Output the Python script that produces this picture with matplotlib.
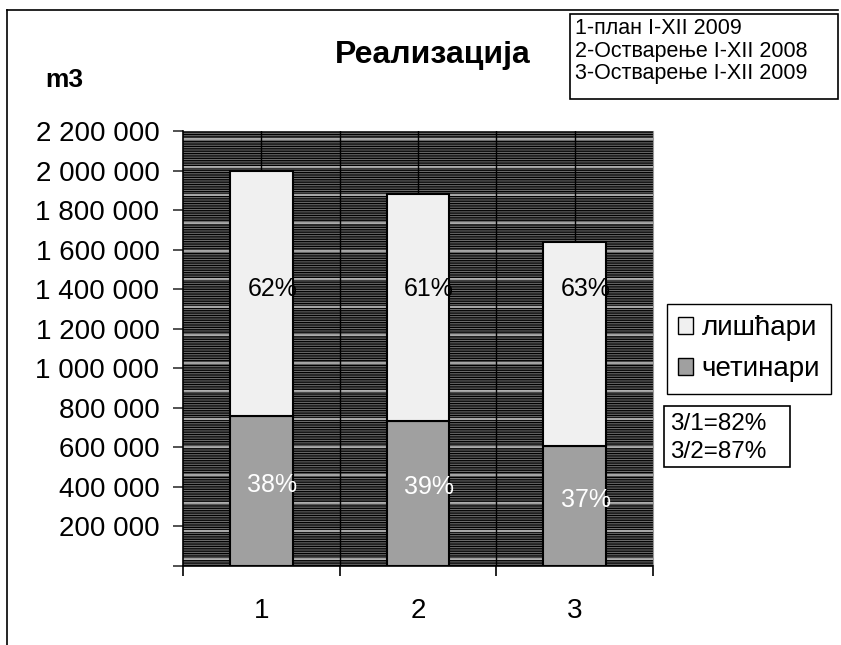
import numpy as np
import matplotlib
matplotlib.use("Agg")
import matplotlib.pyplot as plt
from matplotlib.patches import Rectangle
from matplotlib.lines import Line2D

plt.rcParams['font.family'] = ['Liberation Sans', 'DejaVu Sans']
plt.rcParams['hatch.linewidth'] = 0.9

# data
categories = ['1', '2', '3']
cetinari = [760000, 735000, 605000]
liscari = [1240000, 1145000, 1035000]
pct_liscari = ['62%', '61%', '63%']
pct_cetinari = ['38%', '39%', '37%']
yticks = list(range(0, 2200001, 200000))
notes = ['1-план I-XII 2009', '2-Остварење I-XII 2008', '3-Остварење I-XII 2009']
ratios = ['3/1=82%', '3/2=87%']

W, H = 841, 645
fig = plt.figure(figsize=(W / 100, H / 100), dpi=100)


def fx(x):
    return x / W


def fy(y):
    return 1 - y / H


ax = fig.add_axes([fx(183), fy(566), fx(653) - fx(183), fy(131) - fy(566)])
x = np.arange(1, len(categories) + 1)

# textured background of the plot area
ax.add_patch(Rectangle((0, 0), 1, 1, transform=ax.transAxes, facecolor='#6b6b6b',
                       edgecolor='black', hatch='-------', linewidth=0, zorder=0))
for f in np.arange(0.015, 1, 0.0645):
    ax.plot([0, 1], [f, f], transform=ax.transAxes, color='#bdbdbd', lw=1.2, zorder=0.5)
for gx in [1, 1.5, 2, 2.5, 3]:
    ax.axvline(gx, color='black', lw=1, zorder=1)

ax.bar(x, cetinari, width=0.4, color='#a0a0a0', edgecolor='black', lw=1.5, zorder=2)
ax.bar(x, liscari, width=0.4, bottom=cetinari, color='#f0f0f0', edgecolor='black', lw=1.5, zorder=2)

for i in range(len(x)):
    ax.text(x[i] + 0.07, 1400000, pct_liscari[i], ha='center', va='center',
            fontsize=18, color='black', zorder=3)
    ax.text(x[i] + 0.07, cetinari[i] / 2 + 30000, pct_cetinari[i], ha='center', va='center',
            fontsize=18, color='white', zorder=3)

ax.set_xlim(0.5, 3.5)
ax.set_ylim(0, 2200000)
ax.set_yticks(yticks)
ax.set_yticklabels(['' if v == 0 else f'{v:,}'.replace(',', ' ') for v in yticks], fontsize=20)
ax.set_xticks([0.5, 1.5, 2.5, 3.5])
ax.set_xticklabels([])
ax.set_xticks(x, minor=True)
ax.set_xticklabels(categories, minor=True, fontsize=20)
ax.tick_params(axis='x', which='major', length=7, width=1.2, color='black')
ax.tick_params(axis='x', which='minor', length=0, pad=23)
ax.tick_params(axis='y', length=7, width=1.2, color='#333333', pad=10)
ax.spines['top'].set_visible(False)
ax.spines['right'].set_color('#999999')
ax.spines['left'].set_linewidth(1.2)
ax.spines['bottom'].set_linewidth(1.2)

# outer frame
fig.add_artist(Line2D([fx(7), fx(7)], [fy(10), 0], color='black', lw=1.2))
fig.add_artist(Line2D([fx(7), fx(838)], [fy(10), fy(10)], color='black', lw=1.2))

fig.text(fx(433), fy(55), 'Реализација', fontsize=23, fontweight='bold', ha='center', va='center')
fig.text(fx(64), fy(80), 'm3', fontsize=19, fontweight='bold', ha='center', va='center')

# notes box
fig.add_artist(Rectangle((fx(570), fy(99)), fx(838) - fx(570), fy(14) - fy(99),
                         transform=fig.transFigure, fill=False, edgecolor='black', lw=1.2))
for i, t in enumerate(notes):
    fig.text(fx(575), fy(28 + 23 * i), t, fontsize=15.5, ha='left', va='center')

# legend
handles = [Rectangle((0, 0), 1, 1, facecolor='#f0f0f0', edgecolor='black', lw=1),
           Rectangle((0, 0), 1, 1, facecolor='#a0a0a0', edgecolor='black', lw=1)]
fig.legend(handles, ['лишћари', 'четинари'], loc='upper left',
           bbox_to_anchor=(fx(667), fy(304)), fontsize=20, frameon=True, fancybox=False,
           edgecolor='black', handlelength=0.55, handleheight=0.55, handletextpad=0.3,
           borderpad=0.4, labelspacing=0.55, borderaxespad=0, framealpha=1)

# ratio box
fig.add_artist(Rectangle((fx(664), fy(467)), fx(790) - fx(664), fy(406) - fy(467),
                         transform=fig.transFigure, fill=False, edgecolor='black', lw=1.2))
for i, t in enumerate(ratios):
    fig.text(fx(670), fy(424 + 28 * i), t, fontsize=17.5, ha='left', va='center')

fig.savefig('out.png', dpi=100)
